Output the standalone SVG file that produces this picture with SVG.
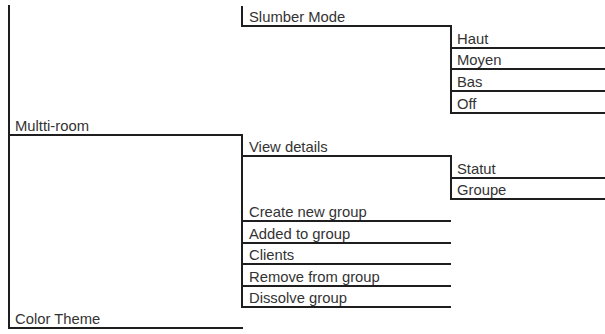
<svg xmlns="http://www.w3.org/2000/svg" width="605" height="334" viewBox="0 0 605 334">
<style>
.t{font-family:"Liberation Sans",Arial,sans-serif;font-size:14.8px;fill:#333}
.c line{stroke:#1e1e1e;stroke-width:2;fill:none}
</style>
<rect width="605" height="334" fill="#fff"/>
<g id="connectors" class="c">
<line x1="9" y1="5" x2="9" y2="329"/>
<line x1="8" y1="135" x2="243" y2="135"/>
<line x1="8" y1="328" x2="243" y2="328"/>
<line x1="242" y1="6" x2="242" y2="27"/>
<line x1="241" y1="26" x2="452" y2="26"/>
<line x1="451" y1="25" x2="451" y2="114"/>
<line x1="450" y1="48" x2="605" y2="48"/>
<line x1="450" y1="69" x2="605" y2="69"/>
<line x1="450" y1="91" x2="605" y2="91"/>
<line x1="450" y1="113" x2="605" y2="113"/>
<line x1="242" y1="134" x2="242" y2="308"/>
<line x1="241" y1="156" x2="452" y2="156"/>
<line x1="451" y1="155" x2="451" y2="200"/>
<line x1="450" y1="178" x2="605" y2="178"/>
<line x1="450" y1="199" x2="605" y2="199"/>
<line x1="241" y1="221" x2="451" y2="221"/>
<line x1="241" y1="243" x2="451" y2="243"/>
<line x1="241" y1="264" x2="451" y2="264"/>
<line x1="241" y1="286" x2="451" y2="286"/>
<line x1="241" y1="307" x2="451" y2="307"/>
</g>
<g id="multti-room"><text class="t" x="15" y="131">Multti-room</text></g>
<g id="color-theme"><text class="t" x="15" y="324">Color Theme</text></g>
<g id="slumber-mode"><text class="t" x="249" y="22">Slumber Mode</text></g>
<g id="haut"><text class="t" x="457" y="44">Haut</text></g>
<g id="moyen"><text class="t" x="457" y="65">Moyen</text></g>
<g id="bas"><text class="t" x="457" y="87">Bas</text></g>
<g id="off"><text class="t" x="457" y="109">Off</text></g>
<g id="view-details"><text class="t" x="249" y="152">View details</text></g>
<g id="statut"><text class="t" x="457" y="174">Statut</text></g>
<g id="groupe"><text class="t" x="457" y="195">Groupe</text></g>
<g id="create-new-group"><text class="t" x="249" y="217">Create new group</text></g>
<g id="added-to-group"><text class="t" x="249" y="239">Added to group</text></g>
<g id="clients"><text class="t" x="249" y="260">Clients</text></g>
<g id="remove-from-group"><text class="t" x="249" y="282">Remove from group</text></g>
<g id="dissolve-group"><text class="t" x="249" y="303">Dissolve group</text></g>
</svg>
